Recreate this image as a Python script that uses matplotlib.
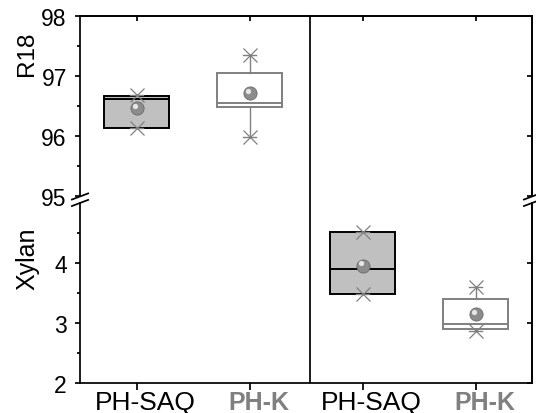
import numpy as np
import matplotlib.pyplot as plt
from matplotlib import transforms
from matplotlib.ticker import NullFormatter

plt.rcParams['font.family'] = ['Liberation Sans', 'DejaVu Sans']

categories = ['PH-SAQ', 'PH-K']
label_colors = ['black', '#808080']
label_weights = ['normal', 'bold']
label_sizes = [19, 18]

# R18, upper panel, left half
r18_pos = [1, 2]
r18_q1 = [96.14, 96.49]
r18_q3 = [96.67, 97.05]
r18_med = [96.62, 96.56]
r18_mean = [96.47, 96.72]
r18_min = [96.14, 95.99]
r18_max = [96.68, 97.35]

# Xylan, lower panel, right half
xyl_pos = [3, 4]
xyl_q1 = [3.49, 2.91]
xyl_q3 = [4.51, 3.40]
xyl_med = [3.91, 2.99]
xyl_mean = [3.96, 3.16]
xyl_min = [3.48, 2.87]
xyl_max = [4.52, 3.60]

box_face = ['#c0c0c0', 'white']
box_edge = ['black', '#808080']
GRAY = '#808080'
LW = 1.25


def draw_boxes(ax, pos, q1, q3, med, mean, lo, hi):
    stats = []
    for i in range(len(pos)):
        stats.append(dict(med=med[i], q1=q1[i], q3=q3[i], whislo=lo[i],
                          whishi=hi[i], mean=mean[i], fliers=[]))
    art = ax.bxp(stats, positions=pos, widths=0.57, patch_artist=True,
                 showfliers=False, showmeans=False, capwidths=0.11,
                 manage_ticks=False)
    for i in range(len(pos)):
        art['boxes'][i].set_facecolor(box_face[i])
        art['boxes'][i].set_edgecolor(box_edge[i])
        art['boxes'][i].set_linewidth(1.4)
        art['medians'][i].set_color(box_edge[i])
        art['medians'][i].set_linewidth(1.4)
        for k in (2 * i, 2 * i + 1):
            art['whiskers'][k].set_color(GRAY)
            art['whiskers'][k].set_linewidth(1.0)
            art['caps'][k].set_color(GRAY)
            art['caps'][k].set_linewidth(1.0)
    # min / max markers
    ax.plot(pos, lo, ls='none', marker='x', ms=9.5, mew=0.9, color=GRAY, zorder=5)
    ax.plot(pos, hi, ls='none', marker='x', ms=9.5, mew=0.9, color=GRAY, zorder=5)
    # mean as a shaded ball
    ax.plot(pos, mean, ls='none', marker='o', ms=9.5, color='#8c8c8c',
            mec='#6a6a6a', mew=0.6, zorder=6)
    hl = transforms.offset_copy(ax.transData, fig=ax.figure, x=-1.0, y=1.5, units='points')
    ax.plot(pos, mean, ls='none', marker='o', ms=3.8, color='#e6e6e6',
            mec='none', transform=hl, zorder=7)


fig = plt.figure(figsize=(5.36, 4.14), dpi=100)
ax_top = fig.add_axes([0.1493, 0.523, 0.8433, 0.436])
ax_bot = fig.add_axes([0.1493, 0.0713, 0.8433, 0.436])

draw_boxes(ax_top, r18_pos, r18_q1, r18_q3, r18_med, r18_mean, r18_min, r18_max)
draw_boxes(ax_bot, xyl_pos, xyl_q1, xyl_q3, xyl_med, xyl_mean, xyl_min, xyl_max)

ax_top.set_ylim(95, 98)
ax_bot.set_ylim(2, 5)
ax_top.set_yticks([95, 96, 97, 98])
ax_top.set_yticks([95.5, 96.5, 97.5], minor=True)
ax_bot.set_yticks([2, 3, 4])
ax_bot.set_yticks([2.5, 3.5, 4.5], minor=True)

for ax in (ax_top, ax_bot):
    ax.set_xlim(0.5, 4.5)
    for s in ax.spines.values():
        s.set_linewidth(LW)
    ax.tick_params(axis='y', which='both', direction='out', right=False,
                   labelsize=16.5, pad=6, width=LW)
    ax.tick_params(axis='y', which='major', length=3.5)
    ax.tick_params(axis='y', which='minor', length=2.2)
    sy = ax.secondary_yaxis('right')
    sy.set_yticks(ax.get_yticks())
    sy.yaxis.set_major_formatter(NullFormatter())
    sy.tick_params(direction='in', length=3.5, width=LW)
    sy.spines['right'].set_linewidth(LW)

ax_top.spines['bottom'].set_visible(False)
ax_bot.spines['top'].set_visible(False)
ax_top.tick_params(axis='x', bottom=False, labelbottom=False)
sx = ax_top.secondary_xaxis('top')
sx.set_xticks(r18_pos + xyl_pos)
sx.xaxis.set_major_formatter(NullFormatter())
sx.tick_params(direction='in', length=3.5, width=LW)
sx.spines['top'].set_linewidth(LW)

ax_bot.set_xticks(r18_pos + xyl_pos)
ax_bot.set_xticklabels(categories * 2)
ax_bot.tick_params(axis='x', direction='out', length=5, width=LW, pad=0)
shift = transforms.ScaledTranslation(9 / 100, 0, fig.dpi_scale_trans)
for i, lab in enumerate(ax_bot.get_xticklabels()):
    lab.set_color(label_colors[i % 2])
    lab.set_fontweight(label_weights[i % 2])
    lab.set_fontsize(label_sizes[i % 2])
    lab.set_transform(lab.get_transform() + shift)

# divider between the two halves
ax_top.axvline(2.535, ymin=-0.04, ymax=1, color='black', lw=LW, clip_on=False)
ax_bot.axvline(2.535, color='black', lw=LW)

# break marks
dx, dy = 0.018, 0.017
for xs in (0, 1):
    for yc in (1.0, 1.036):
        ax_bot.plot([xs - dx, xs + dx], [yc - dy, yc + dy], color='black',
                    lw=LW, transform=ax_bot.transAxes, clip_on=False)

fig.text(27 / 536, 1 - 54 / 414, 'R18', rotation=90, ha='center', va='center', fontsize=17.5)
fig.text(27 / 536, 1 - 259 / 414, 'Xylan', rotation=90, ha='center', va='center', fontsize=18)

fig.savefig('out.png', dpi=100)
